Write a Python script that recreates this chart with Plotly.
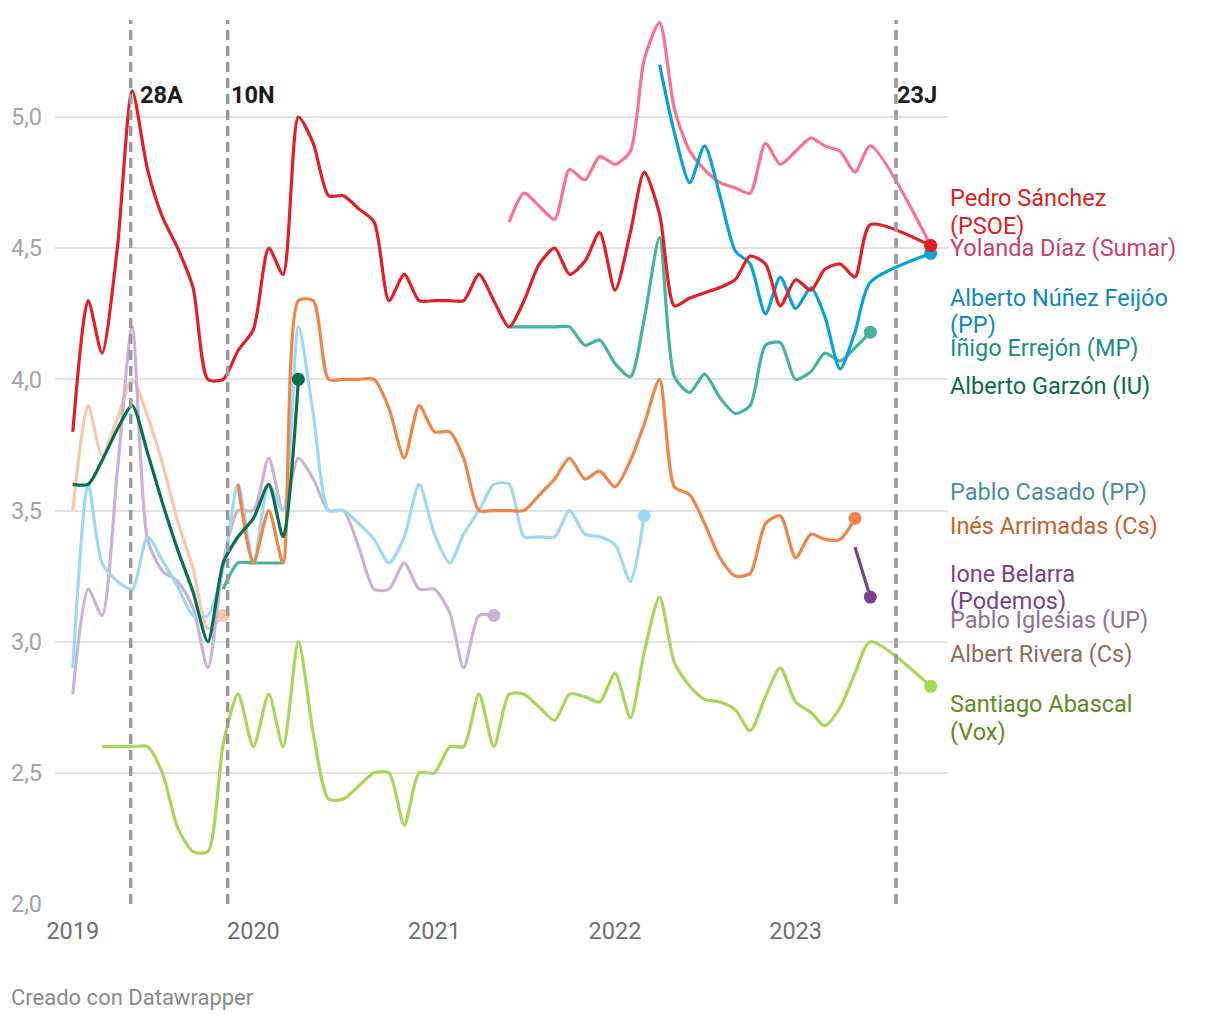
import plotly.graph_objects as go

# ---------------- data ----------------
dates = [f"{y}-{m:02d}-01" for y in range(2019, 2024) for m in range(1, 13)
         if (y, m) <= (2023, 6)] + ["2023-10-01"]

sanchez = [3.8, 4.3, 4.1, 4.5, 5.1, 4.8, 4.62, 4.5, 4.35, 4.0, 4.0, 4.11, 4.19, 4.5, 4.4,
           5.0, 4.9, 4.7, 4.7, 4.65, 4.6, 4.3, 4.4, 4.3, 4.3, 4.3, 4.3, 4.4, 4.3, 4.2,
           4.3, 4.44, 4.5, 4.4, 4.45, 4.56, 4.34, 4.56, 4.79, 4.63, 4.28, 4.31, 4.33, 4.35,
           4.38, 4.47, 4.44, 4.28, 4.38, 4.34, 4.42, 4.44, 4.39, 4.59, 4.51]
yolanda = [4.6, 4.71, 4.66, 4.61, 4.8, 4.76, 4.85, 4.82, 4.87, 5.22, 5.36, 5.03, 4.87,
           4.8, 4.75, 4.73, 4.71, 4.9, 4.82, 4.87, 4.92, 4.89, 4.87, 4.79, 4.89, 4.51]
feijoo = [5.2, 4.94, 4.75, 4.89, 4.7, 4.49, 4.44, 4.25, 4.39, 4.27, 4.35, 4.24, 4.04,
          4.18, 4.37, 4.48]
errejon = [3.2, 3.3, 3.3, 3.3, 3.3,
           None, None, None, None, None, None, None, None, None, None, None, None, None, None,
           4.2, 4.2, 4.2, 4.2, 4.2, 4.13, 4.15, 4.06, 4.01, 4.23, 4.54, 4.01, 3.95, 4.02,
           3.93, 3.87, 3.9, 4.13, 4.14, 4.0, 4.03, 4.1, 4.07, 4.12, 4.18]
garzon = [3.6, 3.6, 3.69, 3.81, 3.9, 3.72, 3.53, 3.35, 3.19, 3.0, 3.3, 3.4, 3.47, 3.6,
          3.4, 4.0]
casado = [2.9, 3.6, 3.3, 3.23, 3.2, 3.4, 3.31, 3.21, 3.1, 3.1, 3.28, 3.6, 3.3, 3.6, 3.5,
          4.2, 3.87, 3.5, 3.5, 3.45, 3.39, 3.3, 3.4, 3.6, 3.41, 3.3, 3.41, 3.5, 3.6, 3.6,
          3.4, 3.4, 3.4, 3.5, 3.41, 3.4, 3.37, 3.23, 3.48]
arrimadas = [3.6, 3.3, 3.5, 3.3, 4.3, 4.3, 4.0, 4.0, 4.0, 4.0, 3.89, 3.7, 3.9, 3.8, 3.8,
             3.7, 3.5, 3.5, 3.5, 3.5, 3.56, 3.62, 3.7, 3.62, 3.65, 3.59, 3.69, 3.83, 4.0,
             3.59, 3.56, 3.45, 3.32, 3.25, 3.26, 3.45, 3.48, 3.32, 3.41, 3.39, 3.39, 3.47]
belarra = [3.36, 3.17]
iglesias = [2.8, 3.2, 3.1, 3.65, 4.2, 3.39, 3.27, 3.23, 3.13, 2.9, 3.3, 3.5, 3.5, 3.7,
            3.5, 3.7, 3.62, 3.5, 3.5, 3.36, 3.2, 3.2, 3.3, 3.2, 3.2, 3.11, 2.9, 3.1, 3.1]
rivera = [3.5, 3.9, 3.71, 3.85, 4.0, 3.86, 3.68, 3.46, 3.28, 3.05, 3.1]
abascal = [2.6, 2.6, 2.6, 2.6, 2.5, 2.29, 2.2, 2.2, 2.61, 2.8, 2.6, 2.8, 2.6, 3.0, 2.65,
           2.4, 2.4, 2.45, 2.5, 2.5, 2.3, 2.5, 2.5, 2.6, 2.6, 2.8, 2.6, 2.8, 2.8, 2.75,
           2.7, 2.8, 2.79, 2.77, 2.88, 2.71, 2.96, 3.17, 2.92, 2.83, 2.78, 2.77, 2.74,
           2.66, 2.79, 2.9, 2.77, 2.73, 2.68, 2.75, 2.88, 3.0, 2.83]

events = ["2019-04-28", "2019-11-10", "2023-07-23"]
event_labels = ["28A", "10N", "23J"]
year_ticks = ["2019-01-01", "2020-01-01", "2021-01-01", "2022-01-01", "2023-01-01"]
y_ticks = [2.0, 2.5, 3.0, 3.5, 4.0, 4.5, 5.0]

# ---------------- styles / label positions ----------------
PLOT_TOP, PLOT_BOTTOM = 20, 904          # pixel rows of the plot area


def px_to_paper(py):
    return (PLOT_BOTTOM - py) / (PLOT_BOTTOM - PLOT_TOP)


# name, values, start index, line colour, label colour, label lines, label pixel rows
series = [
    ("Rivera", rivera, 0, "#f7c8ab", "#8e6c57", ["Albert Rivera (Cs)"], [654]),
    ("Iglesias", iglesias, 0, "#c9b3d3", "#8a7491", ["Pablo Iglesias (UP)"], [620]),
    ("Casado", casado, 0, "#9dd9f2", "#4a8ea3", ["Pablo Casado (PP)"], [492]),
    ("Errejon", errejon, 10, "#45b39e", "#17907c", ["Íñigo Errejón (MP)"], [348]),
    ("Arrimadas", arrimadas, 11, "#ef8548", "#c6612b", ["Inés Arrimadas (Cs)"], [526]),
    ("Belarra", belarra, 52, "#7b3f8d", "#7a3f8a", ["Ione Belarra", "(Podemos)"], [574, 601]),
    ("Abascal", abascal, 2, "#a8d656", "#5b8c1e", ["Santiago Abascal", "(Vox)"], [704, 732]),
    ("Yolanda", yolanda, 29, "#fc7190", "#c9406a", ["Yolanda Díaz (Sumar)"], [248]),
    ("Feijoo", feijoo, 39, "#0aa1db", "#0e88c0", ["Alberto Núñez Feijóo", "(PP)"], [298, 325]),
    ("Garzon", garzon, 0, "#08704f", "#0a6b4c", ["Alberto Garzón (IU)"], [386]),
    ("Sanchez", sanchez, 0, "#e31e24", "#dc1f1c", ["Pedro Sánchez", "(PSOE)"], [198, 226]),
]

FONT = "Roboto, 'Noto Sans', sans-serif"

fig = go.Figure()
n = len(dates)
for name, vals, start, lc, tc, lines, rows in series:
    y = [None] * start + list(vals)
    y = y + [None] * (n - len(y))
    fig.add_trace(go.Scatter(
        x=dates, y=y, mode="lines", name=name,
        line=dict(color=lc, width=3.2, shape="spline", smoothing=0.7),
        connectgaps=False, hoverinfo="skip", showlegend=False))
    last = max(i for i, v in enumerate(y) if v is not None)
    fig.add_trace(go.Scatter(
        x=[dates[last]], y=[y[last]], mode="markers",
        marker=dict(color=lc, size=13), hoverinfo="skip", showlegend=False))
    for txt, row in zip(lines, rows):
        fig.add_annotation(
            x=1.0, xref="paper", y=px_to_paper(row), yref="paper", text=txt,
            showarrow=False, xanchor="left", yanchor="middle", align="left",
            xshift=0, font=dict(family=FONT, size=23.5, color=tc))

event_shift = [7, 1, -1]
for d, lab, sh in zip(events, event_labels, event_shift):
    fig.add_shape(type="line", x0=d, x1=d, xref="x", y0=0, y1=1, yref="paper",
                  line=dict(color="#9a9a9a", width=3.5, dash="10px,6px"), layer="above")
    fig.add_annotation(x=d, xref="x", y=px_to_paper(95), yref="paper",
                       text=f"<b>{lab}</b>", showarrow=False, xanchor="left",
                       yanchor="middle", xshift=sh,
                       font=dict(family=FONT, size=23.5, color="#1a1a1a"))

fig.add_annotation(x=-0.0515, xref="paper", y=px_to_paper(997), yref="paper",
                   text="Creado con Datawrapper", showarrow=False,
                   xanchor="left", yanchor="middle",
                   font=dict(family=FONT, size=22, color="#8a8a8a"))

fig.update_layout(
    width=1220, height=1020,
    margin=dict(l=55, r=272, t=PLOT_TOP, b=1020 - PLOT_BOTTOM),
    paper_bgcolor="white", plot_bgcolor="white",
    separators=",.",
    font=dict(family=FONT),
    xaxis=dict(type="date", range=["2018-11-26", "2023-11-05"],
               tickvals=year_ticks, tickformat="%Y", showgrid=False,
               zeroline=False, showline=False, ticks="", ticklabelstandoff=10,
               tickfont=dict(family=FONT, size=23.5, color="#6e6e6e")),
    yaxis=dict(range=[2.0, 5.37], tickvals=y_ticks, tickformat=".1f",
               showgrid=True, gridcolor="#e2e2e2", gridwidth=1.5,
               zeroline=False, showline=False, ticks="", ticklabelstandoff=12,
               tickfont=dict(family=FONT, size=23.5, color="#a3a3a3")),
)

fig.write_html("out.html", config={"displayModeBar": False},
               post_script="document.body.style.margin='0';")
